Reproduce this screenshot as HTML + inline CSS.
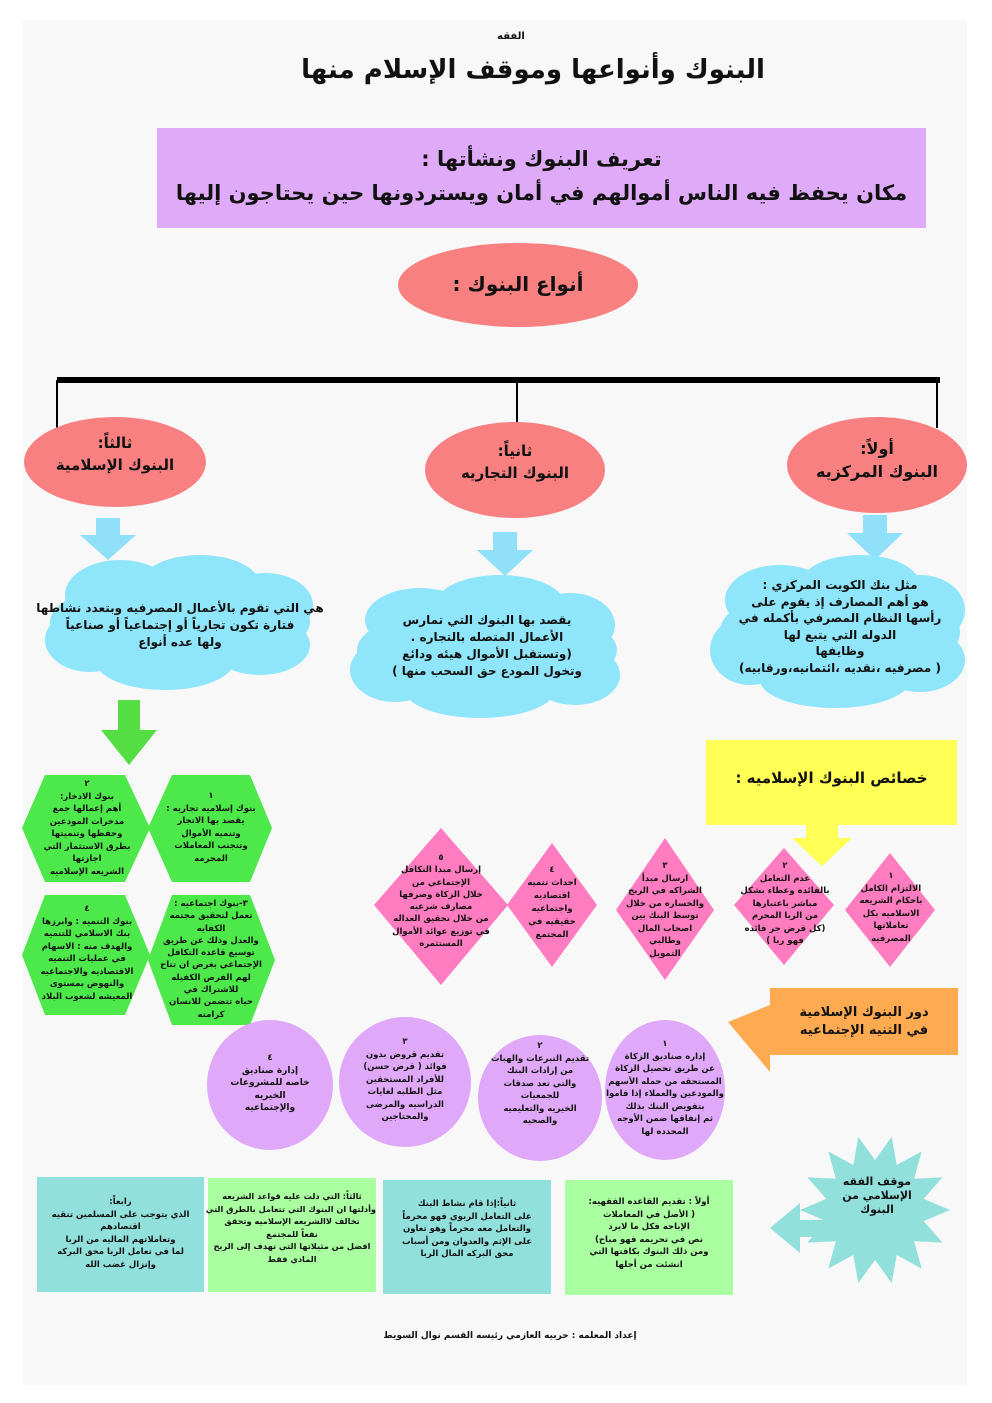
<!DOCTYPE html>
<html><head><meta charset="utf-8">
<style>
html,body{margin:0;padding:0;background:#fff;}
#p{position:relative;width:992px;height:1403px;overflow:hidden;background:#fff;}
#bg{position:absolute;left:23px;top:20px;width:944px;height:1365px;background:#f8f8f8;}
svg{position:absolute;left:0;top:0;}
.t{position:absolute;direction:rtl;text-align:center;font-family:"DejaVu Sans",sans-serif;font-weight:bold;color:#111;white-space:nowrap;}
</style></head><body><div id="p"><div id="bg"></div>
<svg width="992" height="1403" viewBox="0 0 992 1403">
<rect x="157" y="128" width="769" height="100" fill="#dfaaf7"/>
<ellipse cx="518" cy="285" rx="120" ry="42" fill="#f98080"/>
<rect x="57" y="377" width="883" height="6" fill="#000"/>
<rect x="56" y="380" width="2" height="50" fill="#000"/>
<rect x="516" y="380" width="2" height="45" fill="#000"/>
<rect x="936" y="380" width="2" height="48" fill="#000"/>
<ellipse cx="115" cy="462" rx="91" ry="45" fill="#f98080"/>
<ellipse cx="515" cy="470" rx="90" ry="48" fill="#f98080"/>
<ellipse cx="877" cy="465" rx="90" ry="48" fill="#f98080"/>
<polygon points="96,518 120,518 120,535 136,535 108,560 80,535 96,535" fill="#8fe0f8"/>
<polygon points="493,532 517,532 517,550 533,550 505,576 477,550 493,550" fill="#8fe0f8"/>
<polygon points="863,515 887,515 887,533 903,533 875,560 847,533 863,533" fill="#8fe0f8"/>
<g fill="#8fe6fb">
<ellipse cx="180" cy="622" rx="130" ry="45"/><ellipse cx="120" cy="595" rx="55" ry="35"/><ellipse cx="200" cy="585" rx="60" ry="30"/><ellipse cx="265" cy="605" rx="48" ry="32"/><ellipse cx="90" cy="640" rx="45" ry="32"/><ellipse cx="165" cy="660" rx="70" ry="30"/><ellipse cx="260" cy="645" rx="50" ry="30"/>
<ellipse cx="487" cy="650" rx="130" ry="45"/><ellipse cx="420" cy="620" rx="55" ry="32"/><ellipse cx="500" cy="605" rx="65" ry="30"/><ellipse cx="570" cy="625" rx="45" ry="32"/><ellipse cx="395" cy="670" rx="45" ry="32"/><ellipse cx="480" cy="690" rx="75" ry="28"/><ellipse cx="575" cy="675" rx="45" ry="30"/>
<ellipse cx="840" cy="632" rx="120" ry="50"/><ellipse cx="780" cy="600" rx="55" ry="35"/><ellipse cx="860" cy="585" rx="60" ry="30"/><ellipse cx="920" cy="610" rx="45" ry="35"/><ellipse cx="750" cy="650" rx="40" ry="35"/><ellipse cx="835" cy="680" rx="75" ry="28"/><ellipse cx="920" cy="660" rx="45" ry="32"/>
</g>
<polygon points="118,700 140,700 140,730 157,730 129,765 101,730 118,730" fill="#55dd44"/>
<g fill="#4de84a">
<polygon points="45,775 125,775 150,828 125,882 45,882 22,828"/>
<polygon points="172,775 250,775 272,828 250,882 172,882 148,828"/>
<polygon points="45,895 125,895 150,955 125,1015 45,1015 22,955"/>
<polygon points="172,895 250,895 275,960 250,1025 172,1025 148,960"/>
</g>
<rect x="706" y="740" width="251" height="85" fill="#ffff55"/>
<polygon points="806,825 838,825 838,838 852,838 822,866 792,838 806,838" fill="#ffff55"/>
<g fill="#ff7cc0">
<polygon points="441,828 508,905 441,985 374,905"/>
<polygon points="552,843 597,905 552,967 507,905"/>
<polygon points="665,838 714,910 665,980 616,910"/>
<polygon points="784,848 834,905 784,965 734,905"/>
<polygon points="890,853 935,910 890,967 845,910"/>
</g>
<polygon points="770,988 958,988 958,1055 770,1055 770,1072 728,1022 770,1005" fill="#fdaa50"/>
<g fill="#e0a8f8">
<ellipse cx="665" cy="1090" rx="60" ry="70"/>
<ellipse cx="540" cy="1098" rx="62" ry="63"/>
<ellipse cx="405" cy="1082" rx="66" ry="65"/>
<ellipse cx="270" cy="1085" rx="63" ry="65"/>
</g>
<rect x="565" y="1180" width="168" height="115" fill="#aaffa0"/>
<rect x="383" y="1180" width="168" height="114" fill="#92e0dc"/>
<rect x="208" y="1178" width="168" height="114" fill="#aaffa0"/>
<rect x="37" y="1177" width="167" height="115" fill="#92e0dc"/>
<polygon fill="#92e0dc" points="950,1210 923.7,1221.1 942.6,1242.6 914.1,1241.2 921.7,1268.6 896.7,1255 891.7,1283.1 875,1260 858.3,1283.1 853.3,1255 828.3,1268.6 835.9,1241.2 807.4,1242.6 826.3,1221.1 800,1210 826.3,1198.9 807.4,1177.4 835.9,1178.8 828.3,1151.4 853.3,1165 858.3,1136.9 875,1160 891.7,1136.9 896.7,1165 921.7,1151.4 914.1,1178.8 942.6,1177.4 923.7,1198.9"/>
<polygon fill="#92e0dc" points="770,1228 800,1203 800,1220 835,1220 835,1237 800,1237 800,1253"/>
</svg>
<div class="t" style="left:0;width:1022px;top:31px;font-size:10px;">الفقه</div>
<div class="t" style="left:0;width:1066px;top:55px;font-size:26px;">البنوك وأنواعها وموقف الإسلام منها</div>
<div class="t" style="left:157px;width:769px;top:142px;font-size:21px;line-height:34px;">تعريف البنوك ونشأتها :<br>مكان يحفظ فيه الناس أموالهم في أمان ويستردونها حين يحتاجون إليها</div>
<div class="t" style="left:398px;width:240px;top:272px;font-size:20px;">أنواع البنوك :</div>
<div class="t" style="left:25px;width:180px;top:432px;font-size:15px;line-height:22px;">ثالثاً:<br>البنوك الإسلامية</div>
<div class="t" style="left:425px;width:180px;top:440px;font-size:15px;line-height:22px;">ثانياً:<br>البنوك التجاريه</div>
<div class="t" style="left:787px;width:180px;top:437px;font-size:16px;line-height:23px;">أولاً:<br>البنوك المركزيه</div>
<div class="t" style="left:30px;width:300px;top:600px;font-size:12px;line-height:17px;">هي التي تقوم بالأعمال المصرفيه وبتعدد نشاطها<br>فتارة تكون تجارياً أو إجتماعياً أو صناعياً<br>ولها عده أنواع</div>
<div class="t" style="left:357px;width:260px;top:612px;font-size:12px;line-height:17px;">يقصد بها البنوك التي تمارس<br>الأعمال المتصله بالتجاره .<br>(وتستقبل الأموال هيئه ودائع<br>وتخول المودع حق السحب منها )</div>
<div class="t" style="left:720px;width:240px;top:577px;font-size:12px;line-height:16.5px;">مثل بنك الكويت المركزي :<br>هو أهم المصارف إذ يقوم على<br>رأسها النظام المصرفي بأكمله في<br>الدوله التي يتبع لها<br>وظايفها<br>( مصرفيه ،نقديه ،ائتمانيه،ورقابيه)</div>
<div class="t" style="left:706px;width:251px;top:769px;font-size:15px;">خصائص البنوك الإسلاميه :</div>
<div class="t" style="left:28px;width:118px;top:778px;font-size:8.5px;line-height:12.5px;">٢<br>بنوك الادخار:<br>أهم إعمالها جمع<br>مدخرات المودعين<br>وحفظها وتنميتها<br>بطرق الاستثمار التي<br>اجازتها<br>الشريعه الإسلاميه</div>
<div class="t" style="left:152px;width:118px;top:790px;font-size:8.5px;line-height:12.5px;">١<br>بنوك إسلاميه تجاريه :<br>يقصد بها الاتجار<br>وتنميه الأموال<br>وتتجنب المعاملات<br>المحرمه</div>
<div class="t" style="left:26px;width:122px;top:903px;font-size:8.5px;line-height:12.5px;">٤<br>بنوك التنميه : وابرزها<br>بنك الاسلامي للتنميه<br>والهدف منه : الاسهام<br>في عمليات التنميه<br>الاقتصاديه والاجتماعيه<br>والنهوض بمستوى<br>المعيشه لشعوب البلاد</div>
<div class="t" style="left:150px;width:122px;top:898px;font-size:8.5px;line-height:12.3px;">٣-بنوك اجتماعيه :<br>تعمل لتحقيق مجتمه<br>الكفايه<br>والعدل وذلك عن طريق<br>توسيع قاعده التكافل<br>الإجتماعي  بغرض ان تتاح<br>لهم الفرص الكفيله<br>للاشتراك في<br>حياه تتضمن للانسان<br>كرامته</div>
<div class="t" style="left:381px;width:120px;top:852px;font-size:8.5px;line-height:12.3px;">٥<br>إرسال مبدا التكافل<br>الإجتماعي من<br>خلال الزكاة وصرفها<br>مصارف شرعيه<br>من خلال تحقيق العداله<br>في توزيع عوائد الأموال<br>المستثمره</div>
<div class="t" style="left:512px;width:80px;top:864px;font-size:8.5px;line-height:13px;">٤<br>احداث تنميه<br>اقتصاديه<br>واجتماعيه<br>حقيقيه في<br>المجتمع</div>
<div class="t" style="left:620px;width:90px;top:860px;font-size:8.5px;line-height:12.5px;">٣<br>ارسال مبدأ<br>الشراكه في الربح<br>والخساره من خلال<br>توسط البنك بين<br>اصحاب المال<br>وطالبي<br>التمويل</div>
<div class="t" style="left:735px;width:100px;top:860px;font-size:8.5px;line-height:12.5px;">٢<br>عدم التعامل<br>بالفائده وعطاء بشكل<br>مباشر باعتبارها<br>من الربا المحرم<br>(كل قرض جر فائده<br>فهو ربا )</div>
<div class="t" style="left:848px;width:86px;top:870px;font-size:8.5px;line-height:12.5px;">١<br>الالتزام الكامل<br>باحكام الشريعه<br>الاسلاميه بكل<br>تعاملاتها<br>المصرفيه</div>
<div class="t" style="left:770px;width:188px;top:1004px;font-size:13px;line-height:18px;">دور البنوك الإسلامية<br>في التنيه الإجتماعيه</div>
<div class="t" style="left:605px;width:120px;top:1038px;font-size:8.5px;line-height:12.5px;">١<br>إداره صناديق الزكاة<br>عن طريق تحصيل الزكاة<br>المستحقه من حمله الأسهم<br>والمودعين والعملاء إذا قاموا<br>بتفويض البنك بذلك<br>ثم إنفاقها ضمن الأوجه<br>المحدده لها</div>
<div class="t" style="left:480px;width:120px;top:1040px;font-size:8.5px;line-height:12.5px;">٢<br>تقديم التبرعات والهبات<br>من إرادات البنك<br>والتي تعد صدقات<br>للجمعيات<br>الخيريه والتعليميه<br>والصحيه</div>
<div class="t" style="left:345px;width:120px;top:1036px;font-size:8.5px;line-height:12.5px;">٣<br>تقديم قروض بدون<br>فوائد ( قرض حسن)<br>للأفراد المستحقين<br>مثل الطلبه لغايات<br>الدراسيه والمرضى<br>والمحتاجين</div>
<div class="t" style="left:210px;width:120px;top:1052px;font-size:9px;line-height:12.5px;">٤<br>إدارة صناديق<br>خاصه للمشروعات<br>الخيريه<br>والإجتماعيه</div>
<div class="t" style="left:822px;width:110px;top:1175px;font-size:11px;line-height:14px;">موقف الفقه<br>الإسلامي من<br>البنوك</div>
<div class="t" style="left:565px;width:168px;top:1196px;font-size:8.5px;line-height:12.5px;">أولاً : تقديم القاعده الفقهيه:<br>( الأصل في المعاملات<br>الإباحه فكل ما لايرد<br>نص في تحريمه فهو مباح)<br>ومن ذلك البنوك بكافتها التي<br>انشئت من أجلها</div>
<div class="t" style="left:383px;width:168px;top:1198px;font-size:8.5px;line-height:12.5px;">ثانياً:إذا قام نشاط البنك<br>على التعامل الربوي فهو محرماً<br>والتعامل معه محرماً وهو تعاون<br>على الإثم والعدوان ومن أسباب<br>محق البركه المال الربا</div>
<div class="t" style="left:208px;width:168px;top:1190px;font-size:8.2px;line-height:12.5px;">ثالثاً: التي دلت عليه قواعد الشريعه<br>وأدلتها ان البنوك التي تتعامل بالطرق التي<br>تخالف لاالشريعه الإسلاميه وتحقق<br>نفعاً للمجتمع<br>افضل من مثيلاتها التي تهدف إلى الربح<br>المادي فقط</div>
<div class="t" style="left:37px;width:167px;top:1196px;font-size:8.5px;line-height:12.5px;">رابعاً:<br>الذي يتوجب على المسلمين تنقيه<br>اقتصادهم<br>وتعاملاتهم الماليه من الربا<br>لما في تعامل الربا محق البركه<br>وإنزال غضب الله</div>
<div class="t" style="left:0;width:1020px;top:1331px;font-size:9px;">إعداد المعلمه : حربيه العازمي رئيسه القسم نوال السويط</div>
</div></body></html>
